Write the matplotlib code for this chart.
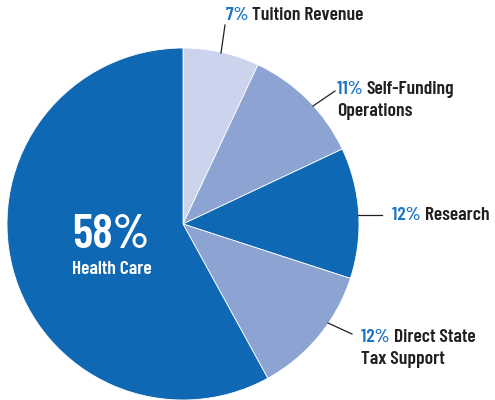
import matplotlib
matplotlib.use("Agg")
import matplotlib.pyplot as plt

# funding shares, clockwise from 12 o'clock
shares = [7, 11, 12, 12, 58]
pct_labels = ["7%", "11%", "12%", "12%", "58%"]
names = ["Tuition Revenue", "Self-Funding\nOperations", "Research",
         "Direct State\nTax Support", "Health Care"]
colors = ["#cbd4ec", "#8da4d3", "#0e68b3", "#8da4d3", "#0e68b3"]

DARK = "#231f20"
BLUE = "#1a73c3"
FONT = dict(family=["Barlow Condensed", "DejaVu Sans"], weight=600)

W, H = 495, 400
cx, cy, r = 183, 224, 176   # pie centre / radius in pixels (from top)

fig = plt.figure(figsize=(W / 100, H / 100), dpi=100)
ax = fig.add_axes([(cx - r) / W, (H - cy - r) / H, 2 * r / W, 2 * r / H])
ax.pie(shares, colors=colors, startangle=90, counterclock=False,
       wedgeprops=dict(edgecolor="white", linewidth=0.6))
ax.set_xlim(-1, 1)
ax.set_ylim(-1, 1)
ax.set_aspect("equal")
ax.axis("off")


def d(px, py):
    # pixel position -> data coords
    return (px - cx) / r, (cy - py) / r


def label(px, py, pct, name, fs=14):
    x, y = d(px, py)
    first, _, rest = name.partition("\n")
    t = ax.text(x, y, pct + " ", color=BLUE, fontsize=fs, va="center",
                ha="left", clip_on=False, **FONT)
    fig.canvas.draw()
    bb = t.get_window_extent()
    x2 = (bb.x1 - ax.get_window_extent().x0) / r - 1
    ax.text(x2, y, first, color=DARK, fontsize=fs, va="center", ha="left",
            clip_on=False, **FONT)
    if rest:
        x0, y0 = d(px, py + 22)
        ax.text(x0, y0, rest, color=DARK, fontsize=fs, va="center",
                ha="left", clip_on=False, **FONT)


def leader(p1, p2):
    (x1, y1), (x2, y2) = d(*p1), d(*p2)
    ax.plot([x1, x2], [y1, y2], color=DARK, lw=0.9, clip_on=False)


label(226, 15, pct_labels[0], names[0])
leader((225, 25), (221, 53))
label(337, 89, pct_labels[1], names[1])
leader((335, 91), (313, 106))
label(392, 215, pct_labels[2], names[2])
leader((358, 215), (382, 215))
label(361, 337, pct_labels[3], names[3])
leader((328, 323), (352, 334))

hx, hy = d(111, 235)
ax.text(hx, hy, pct_labels[4], color="white", fontsize=34, ha="center",
        va="center", **FONT)
hx, hy = d(112, 270)
ax.text(hx, hy, names[4], color="white", fontsize=14, ha="center",
        va="center", **FONT)

fig.savefig("out.png", dpi=100)
